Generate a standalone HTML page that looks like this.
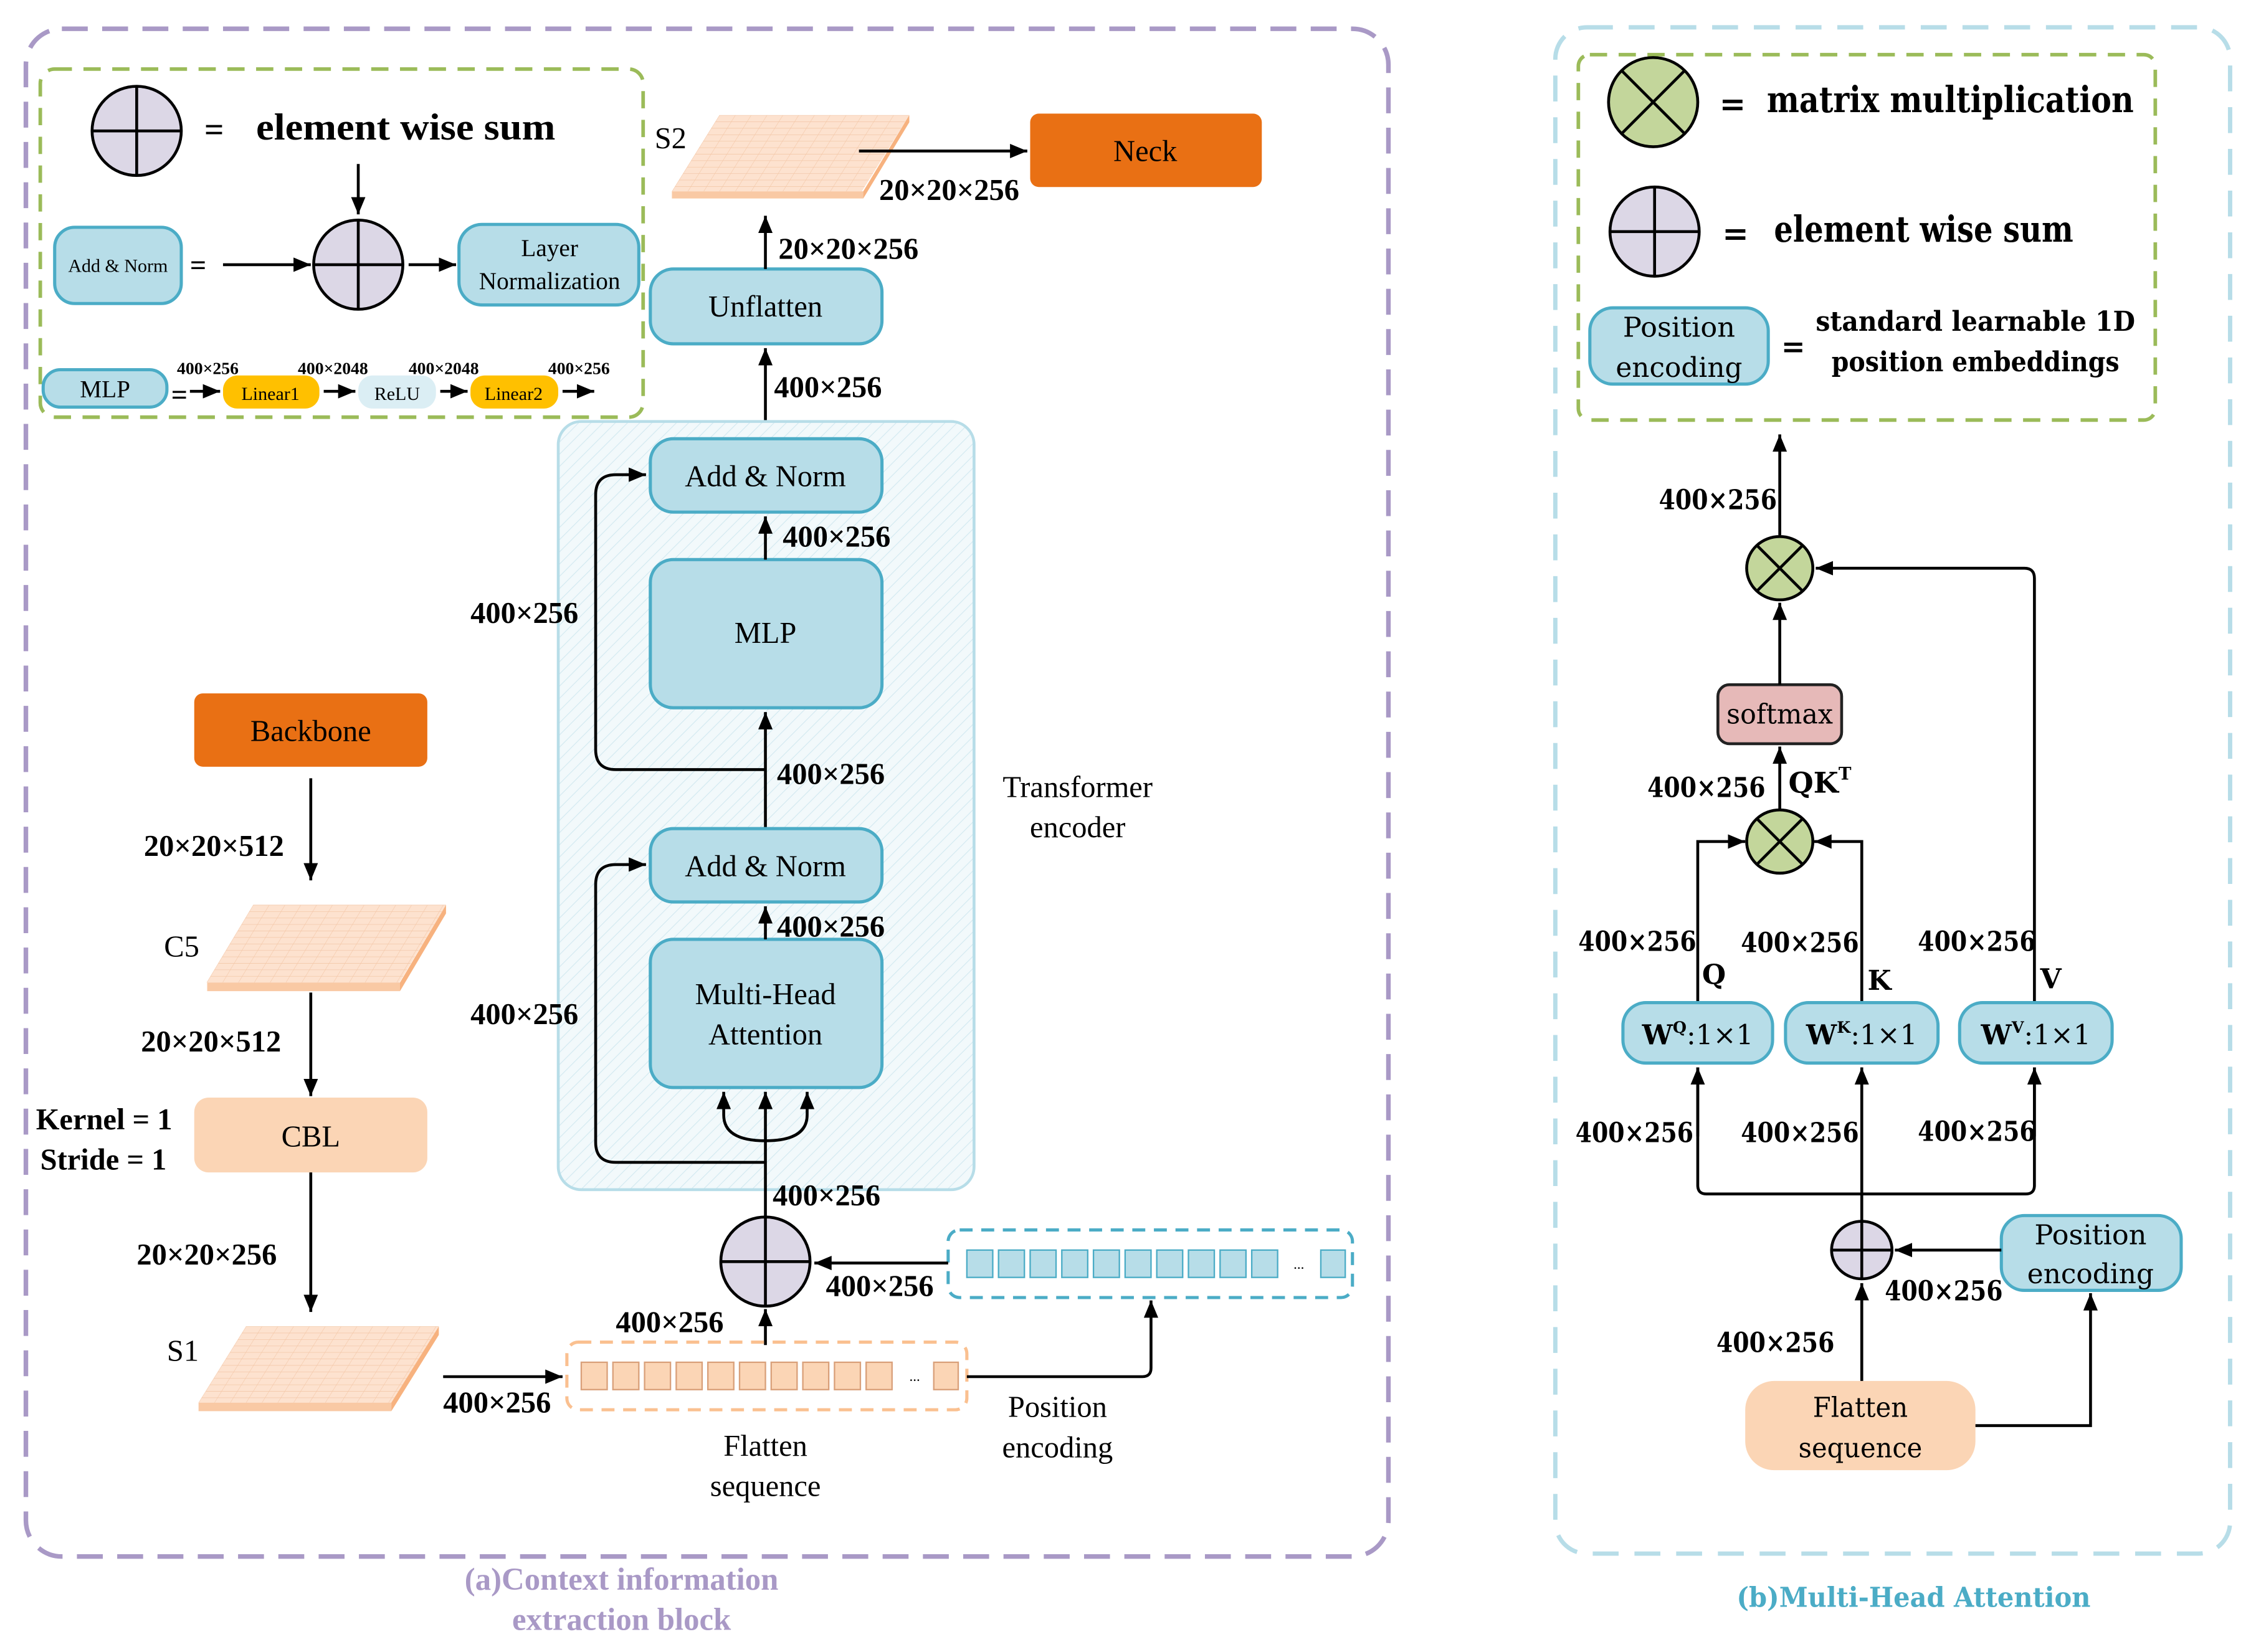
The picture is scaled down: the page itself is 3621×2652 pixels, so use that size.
<!DOCTYPE html>
<html><head><meta charset="utf-8"><style>
html,body{margin:0;padding:0;background:#fff}
svg{display:block}
.t{font-family:"Liberation Serif",serif;fill:#000}
.b{font-weight:bold}
.d{font-family:"DejaVu Serif","Liberation Serif",serif;fill:#000}
.ln{stroke:#000;stroke-width:2;fill:none}
.bx{fill:#b7dde8;stroke:#4bacc6;stroke-width:2.2}
</style></head><body>
<svg width="3621" height="2652" viewBox="0 0 1568 1148.4" preserveAspectRatio="none" xmlns="http://www.w3.org/2000/svg">
<defs>
<marker id="a" markerUnits="userSpaceOnUse" markerWidth="14" markerHeight="10" refX="12" refY="5" orient="auto"><path d="M0,0 L12,5 L0,10 Z" fill="#000"/></marker>
<pattern id="g" patternUnits="userSpaceOnUse" width="11" height="4.5"><rect width="11" height="4.5" fill="#fde2cf"/><path d="M0,0H11M0,0V4.5" stroke="#f3c6a6" stroke-width="0.6"/></pattern>
<pattern id="h" patternUnits="userSpaceOnUse" width="6" height="6" patternTransform="rotate(45)"><rect width="6" height="6" fill="#f2f9fb"/><path d="M0,0V6" stroke="#d2e9f0" stroke-width="1"/></pattern>
</defs>

<!-- LEFT PANEL -->
<rect x="18" y="20" width="947" height="1062" rx="25" fill="none" stroke="#a999c6" stroke-width="3.2" stroke-dasharray="18,10"/>
<rect x="28" y="48" width="419" height="242" rx="10" fill="none" stroke="#9bbb59" stroke-width="2.5" stroke-dasharray="12,8"/>

<ellipse cx="95" cy="91" rx="31" ry="31" fill="#dcd7e6" stroke="#000" stroke-width="2"/>
<path d="M64,91H126M95,60V122" stroke="#000" stroke-width="2"/>
<text x="142" y="98" class="t b" font-size="24">=</text>
<text x="178" y="97" class="t b" font-size="26" textLength="208" lengthAdjust="spacingAndGlyphs">element wise sum</text>

<path d="M249,114V149" class="ln" marker-end="url(#a)"/>
<ellipse cx="249" cy="184" rx="31" ry="31" fill="#dcd7e6" stroke="#000" stroke-width="2"/>
<path d="M218,184H280M249,153V215" stroke="#000" stroke-width="2"/>
<rect x="38" y="158" width="88" height="53" rx="14" class="bx"/>
<text x="82" y="189" class="t" font-size="13" text-anchor="middle">Add &amp; Norm</text>
<text x="132" y="191" class="t b" font-size="20">=</text>
<path d="M155,184H216" class="ln" marker-end="url(#a)"/>
<path d="M284,184H317" class="ln" marker-end="url(#a)"/>
<rect x="319" y="156" width="125" height="56" rx="16" class="bx"/>
<text x="382" y="178" class="t" font-size="17" text-anchor="middle">Layer</text>
<text x="382" y="201" class="t" font-size="17" text-anchor="middle">Normalization</text>

<rect x="30" y="257" width="86" height="26" rx="12" class="bx"/>
<text x="73" y="276" class="t" font-size="17" text-anchor="middle">MLP</text>
<text x="119" y="281" class="t b" font-size="20">=</text>
<path d="M132,272H153" class="ln" stroke-width="2.5" marker-end="url(#a)"/>
<rect x="155" y="261" width="67" height="23" rx="10" fill="#ffc000"/>
<text x="188" y="278" class="t" font-size="13" text-anchor="middle">Linear1</text>
<path d="M225,272H247" class="ln" stroke-width="2.5" marker-end="url(#a)"/>
<rect x="249" y="261" width="54" height="23" rx="10" fill="#dbeef4"/>
<text x="276" y="278" class="t" font-size="13" text-anchor="middle">ReLU</text>
<path d="M306,272H325" class="ln" stroke-width="2.5" marker-end="url(#a)"/>
<rect x="327" y="261" width="61" height="23" rx="10" fill="#ffc000"/>
<text x="357" y="278" class="t" font-size="13" text-anchor="middle">Linear2</text>
<path d="M391,272H413" class="ln" stroke-width="2.5" marker-end="url(#a)"/>
<text x="123" y="260" class="t b" font-size="12">400×256</text>
<text x="207" y="260" class="t b" font-size="12">400×2048</text>
<text x="284" y="260" class="t b" font-size="12">400×2048</text>
<text x="381" y="260" class="t b" font-size="12">400×256</text>

<!-- S2 plate -->
<path d="M467,133H600V138H467Z" fill="#f9c9a4"/>
<path d="M632,80V85L600,138V133Z" fill="#f7b27f"/>
<g transform="matrix(1 0 -0.623 1 500 80)"><rect width="132" height="53" fill="url(#g)"/></g>
<text x="455" y="103" class="t" font-size="21">S2</text>
<rect x="716" y="79" width="161" height="51" rx="6" fill="#e97014"/>
<text x="796" y="112" class="t" font-size="21" text-anchor="middle">Neck</text>
<path d="M597,105H714" class="ln" marker-end="url(#a)"/>
<text x="611" y="139" class="t b" font-size="21">20×20×256</text>

<rect x="452" y="187" width="161" height="52" rx="16" class="bx"/>
<text x="532" y="220" class="t" font-size="21" text-anchor="middle">Unflatten</text>
<path d="M532,187V150" class="ln" marker-end="url(#a)"/>
<text x="541" y="180" class="t b" font-size="21">20×20×256</text>
<path d="M532,293V242" class="ln" marker-end="url(#a)"/>
<text x="538" y="276" class="t b" font-size="21">400×256</text>

<rect x="388" y="293" width="289" height="534" rx="16" fill="url(#h)" stroke="#b7dde8" stroke-width="2"/>
<text x="749" y="554" class="t" font-size="21" text-anchor="middle">Transformer</text>
<text x="749" y="582" class="t" font-size="21" text-anchor="middle">encoder</text>

<rect x="452" y="305" width="161" height="51" rx="16" class="bx"/>
<text x="532" y="338" class="t" font-size="21" text-anchor="middle">Add &amp; Norm</text>
<rect x="452" y="389" width="161" height="103" rx="16" class="bx"/>
<text x="532" y="447" class="t" font-size="21" text-anchor="middle">MLP</text>
<path d="M532,389V359" class="ln" marker-end="url(#a)"/>
<text x="544" y="380" class="t b" font-size="21">400×256</text>
<path d="M532,575V495" class="ln" marker-end="url(#a)"/>
<text x="540" y="545" class="t b" font-size="21">400×256</text>
<path d="M532,535H428Q414,535 414,521V344Q414,330 428,330H449" class="ln" marker-end="url(#a)"/>
<text x="327" y="433" class="t b" font-size="21">400×256</text>

<rect x="452" y="576" width="161" height="51" rx="16" class="bx"/>
<text x="532" y="609" class="t" font-size="21" text-anchor="middle">Add &amp; Norm</text>
<rect x="452" y="653" width="161" height="103" rx="16" class="bx"/>
<text x="532" y="698" class="t" font-size="21" text-anchor="middle">Multi-Head</text>
<text x="532" y="726" class="t" font-size="21" text-anchor="middle">Attention</text>
<path d="M532,653V630" class="ln" marker-end="url(#a)"/>
<text x="540" y="651" class="t b" font-size="21">400×256</text>
<path d="M532,808H428Q414,808 414,794V615Q414,601 428,601H449" class="ln" marker-end="url(#a)"/>
<text x="327" y="712" class="t b" font-size="21">400×256</text>
<path d="M532,846V759" class="ln" marker-end="url(#a)"/>
<path d="M532,793Q503,793 503,775V759" class="ln" marker-end="url(#a)"/>
<path d="M532,793Q561,793 561,775V759" class="ln" marker-end="url(#a)"/>

<text x="537" y="838" class="t b" font-size="21">400×256</text>
<ellipse cx="532" cy="877" rx="31" ry="31" fill="#dcd7e6" stroke="#000" stroke-width="2"/>
<path d="M501,877H563M532,846V908" stroke="#000" stroke-width="2"/>
<path d="M532,935V910" class="ln" marker-end="url(#a)"/>
<text x="428" y="926" class="t b" font-size="21">400×256</text>

<rect x="394" y="933" width="278" height="47" rx="8" fill="none" stroke="#fac090" stroke-width="2.2" stroke-dasharray="9,6"/>
<g fill="#fbd5b5" stroke="#d9a07a" stroke-width="1">
<rect x="404" y="947" width="18" height="19"/><rect x="426" y="947" width="18" height="19"/><rect x="448" y="947" width="18" height="19"/><rect x="470" y="947" width="18" height="19"/><rect x="492" y="947" width="18" height="19"/><rect x="514" y="947" width="18" height="19"/><rect x="536" y="947" width="18" height="19"/><rect x="558" y="947" width="18" height="19"/><rect x="580" y="947" width="18" height="19"/><rect x="602" y="947" width="18" height="19"/><rect x="649" y="947" width="17" height="19"/>
</g>
<text x="632" y="960" class="t" font-size="10">...</text>

<rect x="659" y="855" width="281" height="47" rx="8" fill="none" stroke="#4bacc6" stroke-width="2.2" stroke-dasharray="9,6"/>
<g fill="#b7dde8" stroke="#4bacc6" stroke-width="1">
<rect x="672" y="869" width="18" height="19"/><rect x="694" y="869" width="18" height="19"/><rect x="716" y="869" width="18" height="19"/><rect x="738" y="869" width="18" height="19"/><rect x="760" y="869" width="18" height="19"/><rect x="782" y="869" width="18" height="19"/><rect x="804" y="869" width="18" height="19"/><rect x="826" y="869" width="18" height="19"/><rect x="848" y="869" width="18" height="19"/><rect x="870" y="869" width="18" height="19"/><rect x="918" y="869" width="17" height="19"/>
</g>
<text x="899" y="882" class="t" font-size="10">...</text>
<path d="M659,878H566" class="ln" stroke-width="2.5" marker-end="url(#a)"/>
<text x="574" y="901" class="t b" font-size="21">400×256</text>
<path d="M672,957H794Q800,957 800,951V904" class="ln" stroke-width="2.5" marker-end="url(#a)"/>
<text x="735" y="985" class="t" font-size="21" text-anchor="middle">Position</text>
<text x="735" y="1013" class="t" font-size="21" text-anchor="middle">encoding</text>
<text x="532" y="1012" class="t" font-size="21" text-anchor="middle">Flatten</text>
<text x="532" y="1040" class="t" font-size="21" text-anchor="middle">sequence</text>

<!-- S1 -->
<path d="M138,975H272V981H138Z" fill="#f9c9a4"/>
<path d="M305,922V928L272,981V975Z" fill="#f7b27f"/>
<g transform="matrix(1 0 -0.623 1 171 922)"><rect width="134" height="53" fill="url(#g)"/></g>
<text x="116" y="946" class="t" font-size="21">S1</text>
<path d="M308,957H391" class="ln" stroke-width="2.5" marker-end="url(#a)"/>
<text x="308" y="982" class="t b" font-size="21">400×256</text>

<rect x="135" y="482" width="162" height="51" rx="6" fill="#e97014"/>
<text x="216" y="515" class="t" font-size="21" text-anchor="middle">Backbone</text>
<path d="M216,541V612" class="ln" marker-end="url(#a)"/>
<text x="100" y="595" class="t b" font-size="21">20×20×512</text>
<!-- C5 -->
<path d="M144,683H278V689H144Z" fill="#f9c9a4"/>
<path d="M310,629V635L278,689V683Z" fill="#f7b27f"/>
<g transform="matrix(1 0 -0.6 1 176 629)"><rect width="134" height="54" fill="url(#g)"/></g>
<text x="114" y="665" class="t" font-size="21">C5</text>
<path d="M216,690V762" class="ln" marker-end="url(#a)"/>
<text x="98" y="731" class="t b" font-size="21">20×20×512</text>
<rect x="135" y="763" width="162" height="52" rx="10" fill="#fbd5b5"/>
<text x="216" y="797" class="t" font-size="21" text-anchor="middle">CBL</text>
<text x="25" y="785" class="t b" font-size="21">Kernel = 1</text>
<text x="28" y="813" class="t b" font-size="21">Stride = 1</text>
<path d="M216,815V912" class="ln" marker-end="url(#a)"/>
<text x="95" y="879" class="t b" font-size="21">20×20×256</text>

<text x="432" y="1105" class="t b" font-size="22" style="fill:#a999c6" text-anchor="middle">(a)Context information</text>
<text x="432" y="1133" class="t b" font-size="22" style="fill:#a999c6" text-anchor="middle">extraction block</text>

<!-- RIGHT PANEL -->
<rect x="1081" y="19" width="469" height="1061" rx="22" fill="none" stroke="#b7dde8" stroke-width="3" stroke-dasharray="18,11"/>
<rect x="1097" y="38" width="401" height="254" rx="8" fill="none" stroke="#9bbb59" stroke-width="2.5" stroke-dasharray="12,8"/>
<ellipse cx="1149" cy="71" rx="31" ry="31" fill="#c3d69b" stroke="#000" stroke-width="2"/>
<path d="M1127,49L1171,93M1171,49L1127,93" stroke="#000" stroke-width="2"/>
<text x="1195" y="80" class="d b" font-size="22">=</text>
<text x="1228" y="78" class="d b" font-size="25" textLength="255" lengthAdjust="spacingAndGlyphs">matrix multiplication</text>
<ellipse cx="1150" cy="161" rx="31" ry="31" fill="#dcd7e6" stroke="#000" stroke-width="2"/>
<path d="M1119,161H1181M1150,130V192" stroke="#000" stroke-width="2"/>
<text x="1197" y="170" class="d b" font-size="22">=</text>
<text x="1233" y="168" class="d b" font-size="25" textLength="208" lengthAdjust="spacingAndGlyphs">element wise sum</text>
<rect x="1105" y="214" width="124" height="53" rx="16" class="bx"/>
<text x="1167" y="234" class="d" font-size="19" text-anchor="middle" textLength="78" lengthAdjust="spacingAndGlyphs">Position</text>
<text x="1167" y="262" class="d" font-size="19" text-anchor="middle" textLength="88" lengthAdjust="spacingAndGlyphs">encoding</text>
<text x="1238" y="248" class="d b" font-size="20">=</text>
<text x="1373" y="230" class="d b" font-size="19" text-anchor="middle" textLength="222" lengthAdjust="spacingAndGlyphs">standard learnable 1D</text>
<text x="1373" y="258" class="d b" font-size="19" text-anchor="middle" textLength="200" lengthAdjust="spacingAndGlyphs">position embeddings</text>

<path d="M1237,372V302" class="ln" marker-end="url(#a)"/>
<text x="1153" y="354" class="d b" font-size="19" textLength="82" lengthAdjust="spacingAndGlyphs">400×256</text>
<ellipse cx="1237" cy="395" rx="23" ry="22" fill="#c3d69b" stroke="#000" stroke-width="2"/>
<path d="M1221,379L1253,411M1253,379L1221,411" stroke="#000" stroke-width="2"/>
<path d="M1414,697V402Q1414,395 1407,395H1262" class="ln" marker-end="url(#a)"/>
<rect x="1194" y="476" width="86" height="41" rx="8" fill="#e6b9b8" stroke="#222" stroke-width="2"/>
<text x="1237" y="503" class="d" font-size="19" text-anchor="middle" textLength="74" lengthAdjust="spacingAndGlyphs">softmax</text>
<path d="M1237,476V419" class="ln" marker-end="url(#a)"/>
<ellipse cx="1237" cy="585" rx="23" ry="22" fill="#c3d69b" stroke="#000" stroke-width="2"/>
<path d="M1221,569L1253,601M1253,569L1221,601" stroke="#000" stroke-width="2"/>
<path d="M1237,563V519" class="ln" marker-end="url(#a)"/>
<text x="1145" y="554" class="d b" font-size="19" textLength="82" lengthAdjust="spacingAndGlyphs">400×256</text>
<text x="1243" y="551" class="d b" font-size="20">QK<tspan font-size="12" dy="-9">T</tspan></text>
<path d="M1180,697V585H1213" class="ln" marker-end="url(#a)"/>
<path d="M1294,697V585H1261" class="ln" marker-end="url(#a)"/>
<text x="1097" y="661" class="d b" font-size="19" textLength="82" lengthAdjust="spacingAndGlyphs">400×256</text>
<text x="1183" y="684" class="d b" font-size="19">Q</text>
<text x="1210" y="662" class="d b" font-size="19" textLength="82" lengthAdjust="spacingAndGlyphs">400×256</text>
<text x="1298" y="688" class="d b" font-size="19">K</text>
<text x="1333" y="661" class="d b" font-size="19" textLength="82" lengthAdjust="spacingAndGlyphs">400×256</text>
<text x="1418" y="687" class="d b" font-size="19">V</text>
<rect x="1128" y="697" width="104" height="42" rx="16" class="bx"/>
<text x="1180" y="726" class="d" font-size="19" text-anchor="middle"><tspan font-weight="bold">W</tspan><tspan font-size="11" dy="-8" font-weight="bold">Q</tspan><tspan dy="8">:1×1</tspan></text>
<rect x="1241" y="697" width="106" height="42" rx="16" class="bx"/>
<text x="1294" y="726" class="d" font-size="19" text-anchor="middle"><tspan font-weight="bold">W</tspan><tspan font-size="11" dy="-8" font-weight="bold">K</tspan><tspan dy="8">:1×1</tspan></text>
<rect x="1362" y="697" width="106" height="42" rx="16" class="bx"/>
<text x="1415" y="726" class="d" font-size="19" text-anchor="middle"><tspan font-weight="bold">W</tspan><tspan font-size="11" dy="-8" font-weight="bold">V</tspan><tspan dy="8">:1×1</tspan></text>

<path d="M1294,850V742" class="ln" marker-end="url(#a)"/>
<path d="M1180,742V824Q1180,830 1186,830H1408Q1414,830 1414,824V742" class="ln"/>
<path d="M1180,790V742" class="ln" marker-end="url(#a)"/>
<path d="M1414,790V742" class="ln" marker-end="url(#a)"/>
<text x="1095" y="794" class="d b" font-size="19" textLength="82" lengthAdjust="spacingAndGlyphs">400×256</text>
<text x="1210" y="794" class="d b" font-size="19" textLength="82" lengthAdjust="spacingAndGlyphs">400×256</text>
<text x="1333" y="793" class="d b" font-size="19" textLength="82" lengthAdjust="spacingAndGlyphs">400×256</text>

<ellipse cx="1294" cy="869" rx="21" ry="20" fill="#dcd7e6" stroke="#000" stroke-width="2"/>
<path d="M1273,869H1315M1294,849V889" stroke="#000" stroke-width="2"/>
<rect x="1391" y="845" width="125" height="52" rx="16" class="bx"/>
<text x="1453" y="865" class="d" font-size="19" text-anchor="middle" textLength="78" lengthAdjust="spacingAndGlyphs">Position</text>
<text x="1453" y="892" class="d" font-size="19" text-anchor="middle" textLength="88" lengthAdjust="spacingAndGlyphs">encoding</text>
<path d="M1391,869H1317" class="ln" marker-end="url(#a)"/>
<text x="1310" y="904" class="d b" font-size="19" textLength="82" lengthAdjust="spacingAndGlyphs">400×256</text>
<rect x="1213" y="960" width="160" height="62" rx="20" fill="#fbd5b5"/>
<text x="1293" y="985" class="d" font-size="19" text-anchor="middle" textLength="66" lengthAdjust="spacingAndGlyphs">Flatten</text>
<text x="1293" y="1013" class="d" font-size="19" text-anchor="middle" textLength="86" lengthAdjust="spacingAndGlyphs">sequence</text>
<path d="M1294,960V892" class="ln" marker-end="url(#a)"/>
<path d="M1373,991H1453V899" class="ln" marker-end="url(#a)"/>
<text x="1193" y="940" class="d b" font-size="19" textLength="82" lengthAdjust="spacingAndGlyphs">400×256</text>

<text x="1330" y="1117" class="d b" font-size="19" style="fill:#4bacc6" text-anchor="middle" textLength="246" lengthAdjust="spacingAndGlyphs">(b)Multi-Head Attention</text>
</svg>
</body></html>
